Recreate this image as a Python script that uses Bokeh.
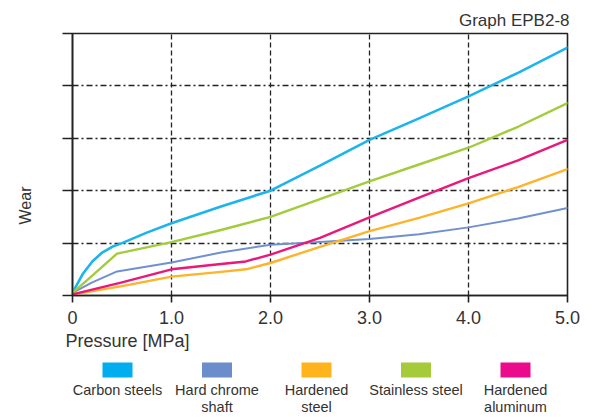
import math
from bokeh.plotting import figure
from bokeh.models import Range1d, FixedTicker, Title
from bokeh.layouts import column, row
from bokeh.core.properties import value
from bokeh.embed import file_html
from bokeh.resources import INLINE

# ---- data ----
carbon_x = [0, 0.1, 0.2, 0.3, 0.4, 0.5, 0.75, 1.0, 1.5, 2.0, 2.5, 3.0, 3.5, 4.0, 4.5, 5.0]
carbon_y = [0.05, 0.4, 0.65, 0.82, 0.93, 1.0, 1.2, 1.38, 1.7, 2.0, 2.48, 2.97, 3.38, 3.8, 4.25, 4.73]

stainless_x = [0, 0.2, 0.45, 1.0, 1.5, 2.0, 2.5, 3.0, 3.5, 4.0, 4.5, 5.0]
stainless_y = [0.05, 0.38, 0.8, 1.02, 1.25, 1.5, 1.84, 2.18, 2.5, 2.82, 3.22, 3.67]

chrome_x = [0, 0.2, 0.45, 1.0, 1.5, 2.0, 2.5, 3.0, 3.5, 4.0, 4.5, 5.0]
chrome_y = [0.05, 0.25, 0.46, 0.63, 0.82, 0.97, 1.02, 1.08, 1.17, 1.3, 1.47, 1.67]

alum_x = [0, 0.5, 1.0, 1.5, 1.75, 2.0, 2.5, 3.0, 3.5, 4.0, 4.5, 5.0]
alum_y = [0.02, 0.25, 0.5, 0.6, 0.65, 0.78, 1.1, 1.49, 1.87, 2.24, 2.58, 2.97]

hsteel_x = [0, 0.5, 1.0, 1.5, 1.75, 2.0, 2.5, 3.0, 3.5, 4.0, 4.5, 5.0]
hsteel_y = [0.02, 0.18, 0.36, 0.45, 0.5, 0.62, 0.93, 1.23, 1.48, 1.76, 2.07, 2.41]

x_ticks = [0, 1, 2, 3, 4, 5]
x_tick_labels = ["0", "1.0", "2.0", "3.0", "4.0", "5.0"]
y_ticks = [0, 1, 2, 3, 4, 5]

legend_names = ["Carbon steels", "Hard chrome\nshaft", "Hardened\nsteel", "Stainless steel", "Hardened\naluminum"]
legend_colors = ["#00AEEF", "#6C8DCC", "#FFB31C", "#A5CA3A", "#EC0A8C"]

series = [
    (carbon_x, carbon_y, "#1BB4EC", 2.6),
    (chrome_x, chrome_y, "#7090D0", 2.0),
    (hsteel_x, hsteel_y, "#FDB32A", 2.4),
    (stainless_x, stainless_y, "#A3CB3B", 2.4),
    (alum_x, alum_y, "#E8197B", 2.4),
]

FONT = value("Liberation Sans")
TXT = "#333333"
LEFT_W = 40
TOP_H = 331
TOTAL_W = 584
TOTAL_H = 417
FRAME_TOP = 33
FRAME_BOTTOM = 295

# ---- main plot ----
p = figure(width=TOTAL_W - LEFT_W, height=TOP_H, output_backend="svg", toolbar_location=None,
           x_range=Range1d(0, 5), y_range=Range1d(0, 5),
           min_border_left=72 - LEFT_W, min_border_right=17, min_border_top=FRAME_TOP,
           min_border_bottom=TOP_H - FRAME_BOTTOM)
p.outline_line_color = "#222222"
p.outline_line_width = 1.6

p.xgrid.ticker = FixedTicker(ticks=x_ticks)
p.ygrid.ticker = FixedTicker(ticks=y_ticks)
p.xgrid.grid_line_color = "#222222"
p.xgrid.grid_line_dash = "5 3"
p.xgrid.grid_line_width = 1.3
p.ygrid.grid_line_color = "#222222"
p.ygrid.grid_line_dash = "6 3 2 3"
p.ygrid.grid_line_width = 1.3

p.xaxis.ticker = FixedTicker(ticks=x_ticks)
p.xaxis.major_label_overrides = {t: l for t, l in zip(x_ticks, x_tick_labels)}
p.xaxis.major_tick_out = 7
p.xaxis.major_tick_in = 0
p.xaxis.minor_tick_line_color = None
p.xaxis.axis_line_color = "#222222"
p.xaxis.axis_line_width = 1.6
p.xaxis.major_tick_line_color = "#222222"
p.xaxis.major_tick_line_width = 1.6
p.xaxis.major_label_text_font = "Liberation Sans"
p.xaxis.major_label_text_font_size = "18px"
p.xaxis.major_label_text_color = TXT
p.xaxis.major_label_standoff = 8

p.yaxis.ticker = FixedTicker(ticks=y_ticks)
p.yaxis.major_tick_out = 10
p.yaxis.major_tick_in = 0
p.yaxis.minor_tick_line_color = None
p.yaxis.axis_line_color = "#222222"
p.yaxis.axis_line_width = 1.6
p.yaxis.major_tick_line_color = "#222222"
p.yaxis.major_tick_line_width = 1.6
p.yaxis.major_label_overrides = {t: "" for t in y_ticks}
p.yaxis.major_label_standoff = 0

for xs, ys, c, w in series:
    p.line(xs, ys, line_color=c, line_width=w, line_join="round", line_cap="round")

p.add_layout(Title(text="Graph EPB2-8", align="right", offset=-2, standoff=8,
                   text_font="Liberation Sans", text_font_size="17px",
                   text_font_style="normal", text_color=TXT), "above")

# ---- left strip with the y label (its frame is aligned with the main frame) ----
wf = figure(width=LEFT_W, height=TOP_H, output_backend="svg", toolbar_location=None,
            x_range=Range1d(0, LEFT_W), y_range=Range1d(FRAME_BOTTOM, FRAME_TOP),
            x_axis_type=None, y_axis_type=None, min_border_left=0, min_border_right=0,
            min_border_top=FRAME_TOP, min_border_bottom=TOP_H - FRAME_BOTTOM)
wf.outline_line_color = None
wf.grid.visible = False
wf.text(x=[25], y=[205], text=["Wear"], angle=math.pi / 2, text_align="center",
        text_baseline="middle", text_font=FONT, text_font_size="16px", text_color=TXT)

# ---- legend strip (page pixel coordinates) ----
leg = figure(width=TOTAL_W, height=TOTAL_H - TOP_H, output_backend="svg", toolbar_location=None,
             x_range=Range1d(0, TOTAL_W), y_range=Range1d(TOTAL_H, TOP_H),
             x_axis_type=None, y_axis_type=None, min_border=0)
leg.outline_line_color = None
leg.grid.visible = False
leg.text(x=[65], y=[340], text=["Pressure  [MPa]"], text_align="left",
         text_baseline="middle", text_font=FONT, text_font_size="18px", text_color=TXT)
cx = [117 + i * 99.5 for i in range(len(legend_names))]
leg.rect(x=cx, y=[369.5] * len(cx), width=30, height=15, fill_color=legend_colors,
         line_color=None)
leg.text(x=cx, y=[381] * len(cx), text=legend_names, text_align="center",
         text_baseline="top", text_font=FONT, text_font_size="14.5px",
         text_color=TXT, text_line_height=1.1)

layout = column(row(wf, p, spacing=0), leg, spacing=0)
open("out.html", "w").write(file_html(layout, INLINE))
